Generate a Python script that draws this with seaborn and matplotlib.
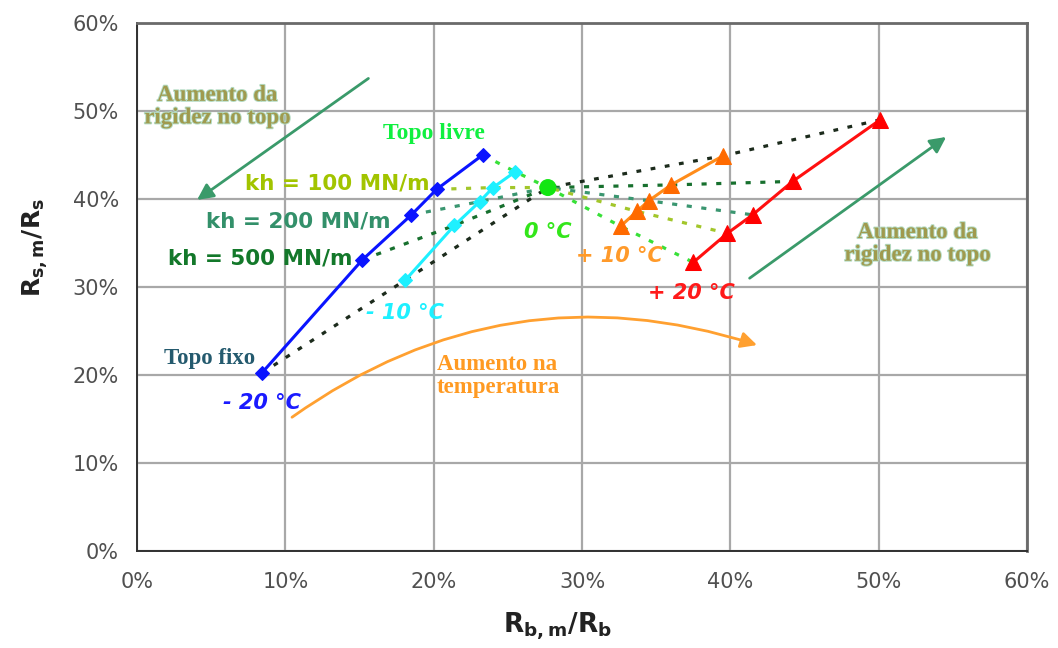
import matplotlib
matplotlib.use("Agg")
import matplotlib.pyplot as plt
import matplotlib.patheffects as pe
from matplotlib.ticker import FuncFormatter
import numpy as np
import pandas as pd
import seaborn as sns

# Points per temperature, ordered: topo fixo, kh=500, kh=200, kh=100, topo livre
supports = ["Topo fixo", "kh = 500 MN/m", "kh = 200 MN/m", "kh = 100 MN/m", "Topo livre"]

rb_m20 = [8.4, 15.2, 18.5, 20.2, 23.3]
rs_m20 = [20.2, 33.1, 38.2, 41.1, 45.0]

rb_m10 = [18.1, 21.4, 23.1, 24.0, 25.5]
rs_m10 = [30.8, 37.0, 39.7, 41.3, 43.1]

rb_0 = 27.7
rs_0 = 41.3

rb_p10 = [39.5, 36.0, 34.5, 33.7, 32.6]
rs_p10 = [44.9, 41.6, 39.8, 38.6, 36.9]

rb_p20 = [50.1, 44.2, 41.5, 39.8, 37.5]
rs_p20 = [49.0, 42.0, 38.2, 36.1, 32.8]

temp_labels = ["- 20 °C", "- 10 °C", "0 °C", "+ 10 °C", "+ 20 °C"]
tick_values = [0, 10, 20, 30, 40, 50, 60]

# Long table built from the arrays above
temps = {
    "- 20 °C": (rb_m20, rs_m20),
    "- 10 °C": (rb_m10, rs_m10),
    "0 °C": ([rb_0] * 5, [rs_0] * 5),
    "+ 10 °C": (rb_p10, rs_p10),
    "+ 20 °C": (rb_p20, rs_p20),
}
rows = []
for t in temp_labels:
    xs, ys = temps[t]
    for i, s in enumerate(supports):
        rows.append({"temp": t, "support": s, "rb": xs[i], "rs": ys[i],
                     "order": temp_labels.index(t)})
df = pd.DataFrame(rows)

sns.set_style("white")
plt.rcParams["font.family"] = ["DejaVu Sans"]
plt.rcParams["mathtext.fontset"] = "dejavusans"

fig = plt.figure(figsize=(10.58, 6.48), dpi=100)
ax = fig.add_axes([0.1295, 0.1497, 0.8412, 0.8148])

# Support-condition paths across temperatures (dotted / dashed)
support_style = {
    "Topo fixo": ("#1c2b1c", (0, (1.5, 3.0))),
    "kh = 500 MN/m": ("#17702e", (0, (1.6, 3.0))),
    "kh = 200 MN/m": ("#3a9670", (0, (1.6, 3.0))),
    "kh = 100 MN/m": ("#a2c62a", (0, (1.6, 3.0))),
    "Topo livre": ("#38e038", (0, (1.5, 3.0))),
}
for s in supports:
    sub = df[df["support"] == s].sort_values("order")
    col, ls = support_style[s]
    sns.lineplot(data=sub, x="rb", y="rs", sort=False, ax=ax, color=col,
                 linestyle=ls, lw=2.3, zorder=3, estimator=None)

# Temperature curves
temp_style = {
    "- 20 °C": ("#0a14ff", "#0a14ff", "D", 7),
    "- 10 °C": ("#1ef0ff", "#1ef0ff", "D", 7),
    "+ 10 °C": ("#ff8c1a", "#ff6a00", "^", 11),
    "+ 20 °C": ("#ff1010", "#ff0000", "^", 11),
}
for t, (lc, mc, mk, ms) in temp_style.items():
    sub = df[df["temp"] == t]
    sns.lineplot(data=sub, x="rb", y="rs", sort=False, ax=ax, color=lc,
                 marker=mk, markersize=ms, markerfacecolor=mc, markeredgecolor=mc,
                 lw=2.2, zorder=5, estimator=None)

# 0 °C common point
sns.scatterplot(x=[rb_0], y=[rs_0], ax=ax, color="#12e612", s=150,
                edgecolor="none", zorder=6)

ax.set_xlim(0, 60)
ax.set_ylim(0, 60)
ax.set_xticks(tick_values)
ax.set_yticks(tick_values)
pct = FuncFormatter(lambda v, _: f"{v:.0f}%")
ax.xaxis.set_major_formatter(pct)
ax.yaxis.set_major_formatter(pct)
ax.grid(True, color="#a8a8a8", lw=1.6, zorder=0)
ax.set_axisbelow(True)
ax.tick_params(axis="both", direction="out", length=7, width=1.2, color="#303030",
               labelsize=15, labelcolor="#505050")
ax.tick_params(axis="x", pad=8)
ax.tick_params(axis="y", pad=6)
for side in ["left", "bottom"]:
    ax.spines[side].set_color("#303030")
    ax.spines[side].set_linewidth(1.4)
for side in ["top", "right"]:
    ax.spines[side].set_color("#6a6a6a")
    ax.spines[side].set_linewidth(2.0)

ax.set_xlabel(r"$\mathbf{R_{b,m}/R_b}$", fontsize=19, color="#222222")
ax.set_ylabel(r"$\mathbf{R_{s,m}/R_s}$", fontsize=18, color="#222222")
ax.xaxis.set_label_coords(0.472, -0.112)
ax.yaxis.set_label_coords(-0.098, 0.574)

serif = "Liberation Serif"
glow = [pe.withStroke(linewidth=1.4, foreground="#b4dcc4")]

# Stiffness labels
ax.text(19.7, 41.8, "kh = 100 MN/m", ha="right", va="center", fontsize=15.5,
        fontweight="bold", color="#a2c400", zorder=7)
ax.text(17.1, 37.4, "kh = 200 MN/m", ha="right", va="center", fontsize=15.5,
        fontweight="bold", color="#33906a", zorder=7)
ax.text(14.5, 33.2, "kh = 500 MN/m", ha="right", va="center", fontsize=15.5,
        fontweight="bold", color="#13782a", zorder=7)

# Temperature labels
temp_text = [
    ("- 20 °C", 8.4, 16.8, "#1a1aff"),
    ("- 10 °C", 18.1, 27.0, "#1ef0ff"),
    ("0 °C", 27.7, 36.2, "#33e61a"),
    ("+ 10 °C", 32.5, 33.5, "#ff9a2a"),
    ("+ 20 °C", 37.4, 29.3, "#ff1a1a"),
]
for lab, x, y, c in temp_text:
    ax.text(x, y, lab, ha="center", va="center", fontsize=15, fontweight="bold",
            fontstyle="italic", color=c, zorder=7)

# Support condition names
ax.text(20.0, 47.4, "Topo livre", ha="center", va="center", family=serif,
        fontsize=17, fontweight="bold", color="#10f040", zorder=7)
ax.text(4.9, 21.9, "Topo fixo", ha="center", va="center", family=serif,
        fontsize=16.5, fontweight="bold", color="#245a6e", zorder=7)

# Trend annotations
ax.text(5.4, 50.5, "Aumento da\nrigidez no topo", ha="center", va="center",
        family=serif, fontsize=16.5, fontweight="bold", color="#a09a4e",
        linespacing=1.1, path_effects=glow, zorder=7)
ax.text(52.6, 34.9, "Aumento da\nrigidez no topo", ha="center", va="center",
        family=serif, fontsize=16.5, fontweight="bold", color="#a09a4e",
        linespacing=1.1, path_effects=glow, zorder=7)
ax.text(20.2, 19.9, "Aumento na\ntemperatura", ha="left", va="center",
        family=serif, fontsize=16.5, fontweight="bold", color="#ff9a22",
        linespacing=1.1, zorder=7)

arrow_green = "#3a9a6a"
ax.annotate("", xy=(4.05, 39.9), xytext=(15.6, 53.7),
            arrowprops=dict(arrowstyle="-|>", color=arrow_green, lw=2,
                            mutation_scale=24, shrinkA=0, shrinkB=0), zorder=4)
ax.annotate("", xy=(54.55, 47.05), xytext=(41.3, 31.0),
            arrowprops=dict(arrowstyle="-|>", color=arrow_green, lw=2,
                            mutation_scale=24, shrinkA=0, shrinkB=0), zorder=4)
ax.annotate("", xy=(41.8, 23.4), xytext=(10.45, 15.2),
            arrowprops=dict(arrowstyle="-|>", color="#ffa030", lw=2,
                            mutation_scale=24, shrinkA=0, shrinkB=0,
                            connectionstyle="arc3,rad=-0.25"), zorder=4)

fig.savefig("out.png", dpi=100)
